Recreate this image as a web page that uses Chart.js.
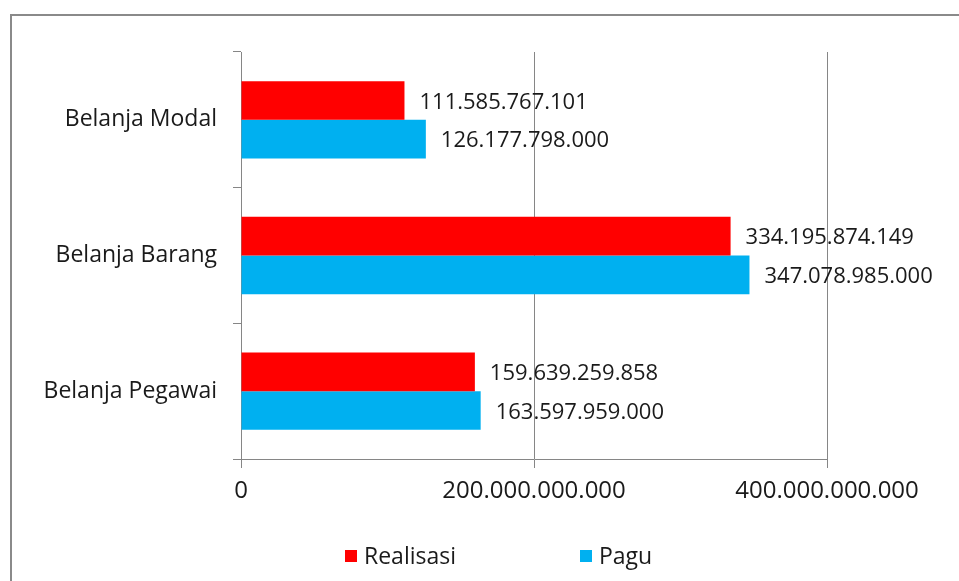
<!DOCTYPE html>
<html>
<head>
<meta charset="utf-8">
<script src="https://cdn.jsdelivr.net/npm/chart.js@4"></script>
<style>
   html, body { margin: 0; padding: 0; background: #fff; }
   #belanja-chart { display: block; }
</style>
</head>
<body>
<canvas id="belanja-chart" width="959" height="581"></canvas>
<script>
const categories = ['Belanja Modal', 'Belanja Barang', 'Belanja Pegawai'];
const realisasi = [111585767101, 334195874149, 159639259858];
const pagu = [126177798000, 347078985000, 163597959000];
const xTicks = [0, 200000000000, 400000000000];

const FONT = '"Open Sans", sans-serif';
const GRID = '#868686';

// angka dengan pemisah ribuan titik
function formatRupiah(v) {
   return String(v).replace(/\B(?=(\d{3})+(?!\d))/g, '.');
}

const valueLabels = {
   id: 'valueLabels',
   afterDatasetsDraw(chart) {
      const ctx = chart.ctx;
      ctx.save();
      ctx.font = '22px ' + FONT;
      ctx.fillStyle = '#1a1a1a';
      ctx.textAlign = 'left';
      ctx.textBaseline = 'middle';
      chart.data.datasets.forEach((ds, i) => {
         chart.getDatasetMeta(i).data.forEach((bar, j) => {
            ctx.fillText(formatRupiah(ds.data[j]), bar.x + 15, bar.y + 2);
         });
      });
      ctx.restore();
   }
};

// bingkai luar dan legenda di bawah
const frameAndLegend = {
   id: 'frameAndLegend',
   afterDraw(chart) {
      const ctx = chart.ctx;
      ctx.save();
      ctx.strokeStyle = '#8a8a8a';
      ctx.lineWidth = 2;
      ctx.strokeRect(11, 15, 1000, 600);

      const items = [
         { x: 345, ds: chart.data.datasets[0] },
         { x: 580, ds: chart.data.datasets[1] }
      ];
      ctx.font = '23px ' + FONT;
      ctx.textBaseline = 'middle';
      items.forEach(it => {
         ctx.fillStyle = it.ds.backgroundColor;
         ctx.fillRect(it.x, 550, 12, 12);
         ctx.fillStyle = '#1a1a1a';
         ctx.fillText(it.ds.label, it.x + 19, 557);
      });
      ctx.restore();
   }
};

new Chart(document.getElementById('belanja-chart'), {
   type: 'bar',
   data: {
      labels: categories,
      datasets: [
         {
            label: 'Realisasi',
            data: realisasi,
            backgroundColor: '#ff0000',
            categoryPercentage: 0.57,
            barPercentage: 1.0
         },
         {
            label: 'Pagu',
            data: pagu,
            backgroundColor: '#00b0f0',
            categoryPercentage: 0.57,
            barPercentage: 1.0
         }
      ]
   },
   options: {
      indexAxis: 'y',
      responsive: false,
      animation: false,
      layout: {
         padding: { left: 0, top: 52, right: 132, bottom: 0 }
      },
      plugins: {
         legend: { display: false },
         tooltip: { enabled: false }
      },
      scales: {
         x: {
            min: 0,
            max: 400000000000,
            afterBuildTicks: (scale) => {
               scale.ticks = xTicks.map(v => ({ value: v }));
            },
            afterFit: (scale) => { scale.height = 122; },
            grid: {
               color: GRID,
               lineWidth: 1,
               tickLength: 9,
               drawOnChartArea: true
            },
            border: { color: GRID, width: 1 },
            ticks: {
               color: '#1a1a1a',
               font: { family: FONT, size: 24 },
               padding: 9,
               maxRotation: 0,
               callback: (v) => formatRupiah(v)
            }
         },
         y: {
            afterFit: (scale) => { scale.width = 241; },
            grid: {
               color: GRID,
               drawOnChartArea: false,
               tickLength: 8,
               offset: true
            },
            border: { color: GRID, width: 1 },
            ticks: {
               color: '#1a1a1a',
               font: { family: FONT, size: 23 },
               padding: 16
            }
         }
      }
   },
   plugins: [valueLabels, frameAndLegend]
});
</script>
</body>
</html>
